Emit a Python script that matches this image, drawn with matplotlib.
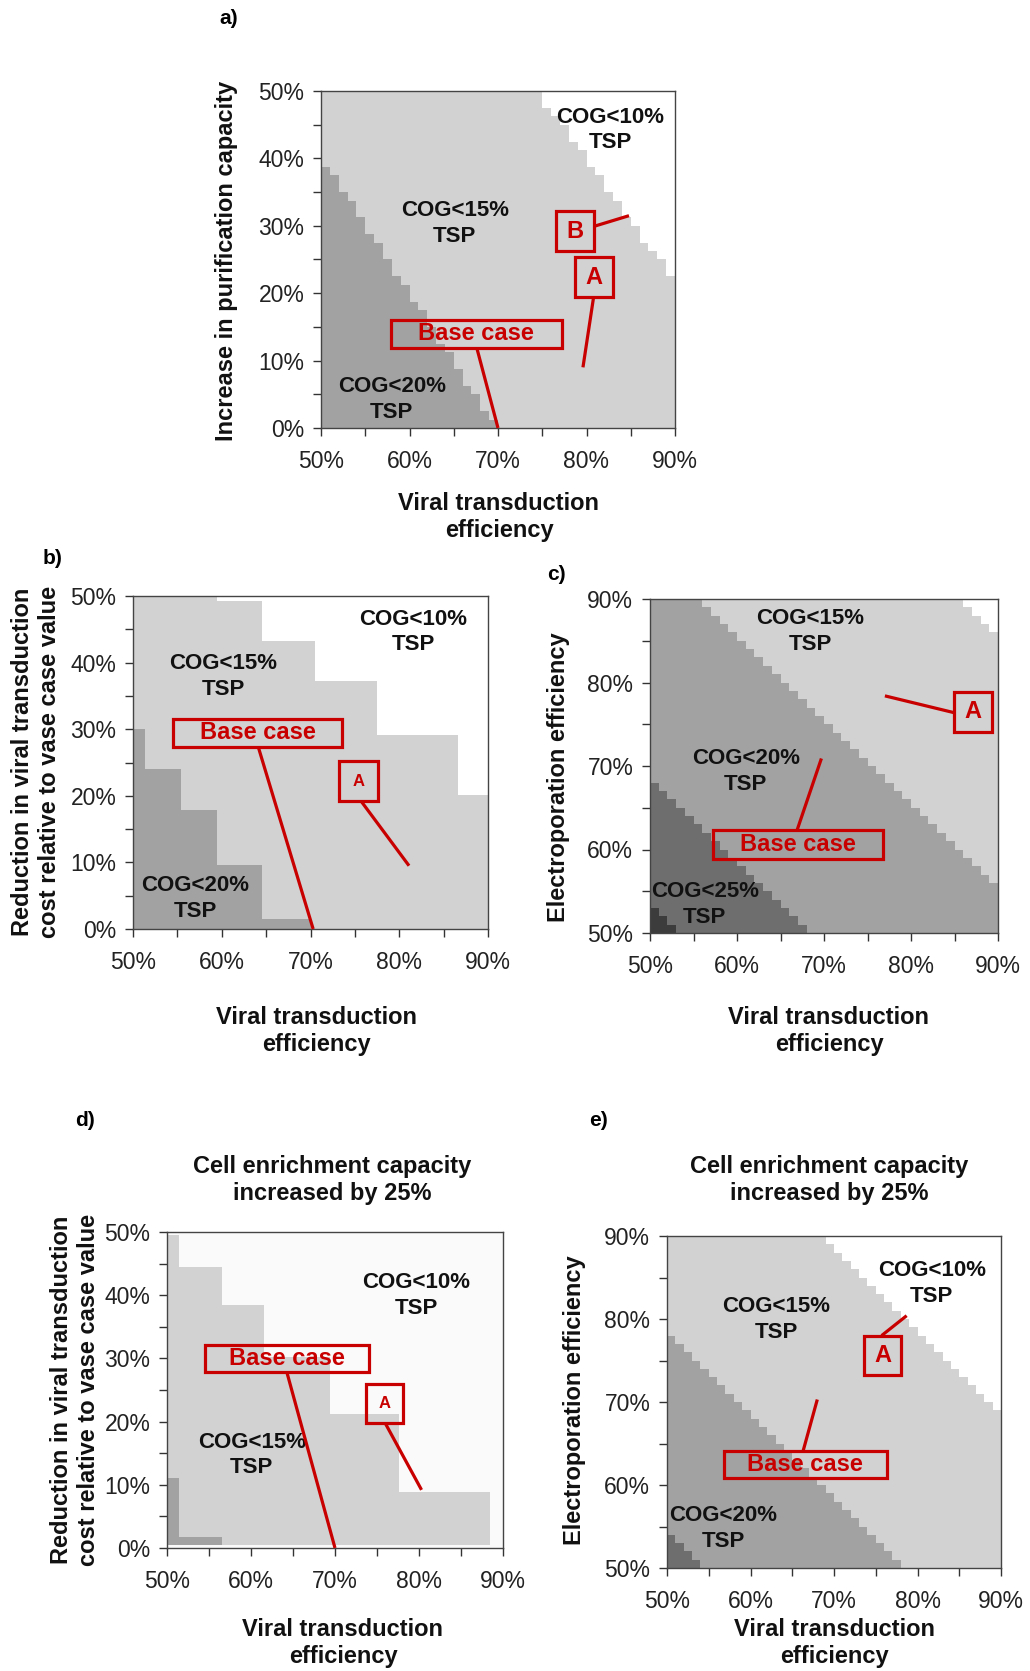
import numpy as np
import matplotlib.pyplot as plt
from matplotlib.colors import ListedColormap
from matplotlib.patches import Rectangle

W, H = 1030, 1671
plt.rcParams['font.family'] = ['Liberation Sans', 'DejaVu Sans']

# grey for COG<10%, <15%, <20%, <25%, <30% of TSP
cog_colors = ['#ffffff', '#d2d2d2', '#a2a2a2', '#6e6e6e', '#3c3c3c']
RED = '#c80000'

# --- panel data (% units) ---
# a) boundaries between COG classes: (x0, y0, x1, y1), top-right first
a_bounds = [(74.4, 50, 90, 21.7), (50, 40.3, 69.85, 0)]
# b) staircase regions
b_light_edges = [50, 59.5, 64.5, 70.5, 77.5, 86.6, 90]
b_light_top = [50, 49.3, 43.3, 37.3, 29.1, 20.1]
b_dark_edges = [50, 51.4, 55.4, 59.5, 64.5, 70.0]
b_dark_top = [30.0, 24.0, 17.9, 9.6, 1.5]
# c) boundaries
c_bounds = [(85.4, 90, 90, 85.9), (55.2, 90, 90, 55.4),
            (50, 68.5, 68.4, 50), (50, 53.4, 53.4, 50)]
# d) staircase regions
d_light_edges = [50, 51.4, 56.5, 61.5, 69.4, 77.6, 88.5]
d_light_top = [49.5, 44.5, 38.4, 30.3, 21.2, 8.9]
d_dark_edges = [50, 51.4, 56.5]
d_dark_top = [11.1, 1.8]
# e) boundaries
e_bounds = [(68.7, 90, 90, 68.4), (50, 78.5, 78.7, 50), (50, 54.4, 54.5, 50)]

# region labels: (x, y, text)
a_labels = [(82.7, 44.2, 'COG<10%\nTSP'), (65.1, 30.4, 'COG<15%\nTSP'), (58.0, 4.2, 'COG<20%\nTSP')]
b_labels = [(81.6, 44.6, 'COG<10%\nTSP'), (60.2, 37.9, 'COG<15%\nTSP'), (57.0, 4.6, 'COG<20%\nTSP')]
c_labels = [(68.4, 86.1, 'COG<15%\nTSP'), (61.0, 69.3, 'COG<20%\nTSP'), (56.3, 53.4, 'COG<25%\nTSP')]
d_labels = [(79.7, 40.0, 'COG<10%\nTSP'), (60.1, 14.7, 'COG<15%\nTSP')]
e_labels = [(81.7, 84.3, 'COG<10%\nTSP'), (63.1, 79.9, 'COG<15%\nTSP'), (56.7, 54.8, 'COG<20%\nTSP')]

# callouts: (text, box x0, x1, y0, y1, line start, line end, fontsize)
a_calls = [('Base case', (57.9, 77.2, 11.9, 16.0), (67.6, 11.9), (70, 0), 17),
           ('B', (76.6, 80.8, 26.2, 32.2), (80.8, 29.9), (84.8, 31.5), 17),
           ('A', (78.7, 83.0, 19.4, 25.4), (80.8, 19.4), (79.6, 9.0), 17)]
b_calls = [('Base case', (54.5, 73.6, 27.4, 31.5), (64.1, 27.4), (70.3, 0), 17),
           ('A', (73.2, 77.6, 19.2, 25.2), (75.7, 19.2), (81.1, 9.5), 12)]
c_calls = [('Base case', (57.2, 76.8, 58.9, 62.3), (66.9, 62.3), (69.7, 70.9), 17),
           ('A', (84.9, 89.3, 74.1, 78.9), (84.9, 76.4), (77.0, 78.4), 17)]
d_calls = [('Base case', (54.5, 74.0, 27.9, 32.1), (64.25, 27.9), (70, 0), 17),
           ('A', (73.7, 78.1, 19.7, 25.9), (76.0, 19.7), (80.3, 9.2), 12)]
e_calls = [('Base case', (56.8, 76.3, 60.9, 64.1), (66.3, 64.1), (68.0, 70.3), 17),
           ('A', (73.6, 78.0, 73.3, 78.0), (75.7, 78.0), (78.7, 80.4), 17)]

fig = plt.figure(figsize=(W / 100, H / 100), dpi=100)


def px_axes(x0, x1, y0, y1):
    return fig.add_axes([x0 / W, 1 - y1 / H, (x1 - x0) / W, (y1 - y0) / H])


def ftext(x, y, s, **kw):
    fig.text(x / W, 1 - y / H, s, **kw)


def setup(ax, ylim):
    ax.set_xlim(50, 90)
    ax.set_ylim(*ylim)
    xt = np.arange(50, 91, 5)
    yt = np.arange(ylim[0], ylim[1] + 1, 5)
    ax.set_xticks(xt, [f'{t}%' if t % 10 == 0 else '' for t in xt])
    ax.set_yticks(yt, [f'{t}%' if t % 10 == 0 else '' for t in yt])
    ax.tick_params(axis='both', direction='out', length=6, width=1, color='#333333',
                   labelsize=16.5, labelcolor='#222222')
    ax.tick_params(axis='x', pad=10)
    ax.tick_params(axis='y', pad=6)
    for sp in ax.spines.values():
        sp.set_color('#444444')
        sp.set_linewidth(1)


def grid_map(ax, bounds, ylim, n=40):
    xe = np.linspace(50, 90, n + 1)
    ye = np.linspace(ylim[0], ylim[1], n + 1)
    X, Y = np.meshgrid((xe[:-1] + xe[1:]) / 2, (ye[:-1] + ye[1:]) / 2)
    cls = np.zeros(X.shape, dtype=int)
    for x0, y0, x1, y1 in bounds:
        cls += (Y < y0 + (y1 - y0) * (X - x0) / (x1 - x0))
    ax.pcolormesh(xe, ye, cls, cmap=ListedColormap(cog_colors), vmin=-0.5, vmax=4.5)


def labels(ax, items):
    for x, y, s in items:
        ax.text(x, y, s, ha='center', va='center', fontsize=16, fontweight='bold',
                color='#111111', linespacing=1.3, zorder=4)


def callouts(ax, items):
    for s, (x0, x1, y0, y1), start, end, fs in items:
        ax.add_patch(Rectangle((x0, y0), x1 - x0, y1 - y0, fill=False, ec=RED, lw=2.3,
                               clip_on=False, zorder=6))
        ax.text((x0 + x1) / 2, (y0 + y1) / 2, s, ha='center', va='center', color=RED,
                fontsize=fs, fontweight='bold', zorder=6)
        ax.plot([start[0], end[0]], [start[1], end[1]], color=RED, lw=2.3,
                clip_on=False, zorder=6, solid_capstyle='butt')


bold = dict(fontsize=17, fontweight='bold', color='#111111')

# a)
ax = px_axes(321, 675, 91, 428)
grid_map(ax, a_bounds, (0, 50))
setup(ax, (0, 50))
labels(ax, a_labels)
callouts(ax, a_calls)
ftext(229, 18, 'a)', ha='center', va='center', fontsize=15, fontweight='bold')
ftext(226, 261, 'Increase in purification capacity', ha='center', va='center', rotation=90, **bold)
ftext(499, 517, 'Viral transduction\nefficiency', ha='center', va='center', linespacing=1.2, **bold)

# b)
ax = px_axes(133, 488, 596, 929)
ax.stairs(b_light_top, b_light_edges, baseline=0, fill=True, color=cog_colors[1])
ax.stairs(b_dark_top, b_dark_edges, baseline=0, fill=True, color=cog_colors[2])
setup(ax, (0, 50))
labels(ax, b_labels)
callouts(ax, b_calls)
ftext(53, 559, 'b)', ha='center', va='center', fontsize=15, fontweight='bold')
ftext(36, 762, 'Reduction in viral transduction\ncost relative to vase case value', ha='center',
      va='center', rotation=90, linespacing=1.2, **bold)
ftext(316, 1031, 'Viral transduction\nefficiency', ha='center', va='center', linespacing=1.2, **bold)

# c)
ax = px_axes(650, 998, 599, 933)
grid_map(ax, c_bounds, (50, 90))
setup(ax, (50, 90))
labels(ax, c_labels)
callouts(ax, c_calls)
ftext(556, 575, 'c)', ha='center', va='center', fontsize=15, fontweight='bold')
ftext(558, 777, 'Electroporation efficiency', ha='center', va='center', rotation=90, **bold)
ftext(829, 1031, 'Viral transduction\nefficiency', ha='center', va='center', linespacing=1.2, **bold)

# d)
ax = px_axes(167, 503, 1232, 1548)
ax.set_facecolor('#fafafa')
ax.stairs(d_light_top, d_light_edges, baseline=0.5, fill=True, color=cog_colors[1])
ax.stairs(d_dark_top, d_dark_edges, baseline=0.5, fill=True, color=cog_colors[2])
setup(ax, (0, 50))
labels(ax, d_labels)
callouts(ax, d_calls)
ftext(85, 1120, 'd)', ha='center', va='center', fontsize=15, fontweight='bold')
ftext(332, 1180, 'Cell enrichment capacity\nincreased by 25%', ha='center', va='center',
      linespacing=1.2, **bold)
ftext(75, 1390, 'Reduction in viral transduction\ncost relative to vase case value', ha='center',
      va='center', rotation=90, linespacing=1.2, **bold)
ftext(343, 1643, 'Viral transduction\nefficiency', ha='center', va='center', linespacing=1.2, **bold)

# e)
ax = px_axes(667, 1001, 1236, 1568)
grid_map(ax, e_bounds, (50, 90))
setup(ax, (50, 90))
labels(ax, e_labels)
callouts(ax, e_calls)
ftext(599, 1120, 'e)', ha='center', va='center', fontsize=15, fontweight='bold')
ftext(829, 1180, 'Cell enrichment capacity\nincreased by 25%', ha='center', va='center',
      linespacing=1.2, **bold)
ftext(575, 1400, 'Electroporation efficiency', ha='center', va='center', rotation=90, **bold)
ftext(834, 1643, 'Viral transduction\nefficiency', ha='center', va='center', linespacing=1.2, **bold)

fig.savefig('out.png', dpi=100)
